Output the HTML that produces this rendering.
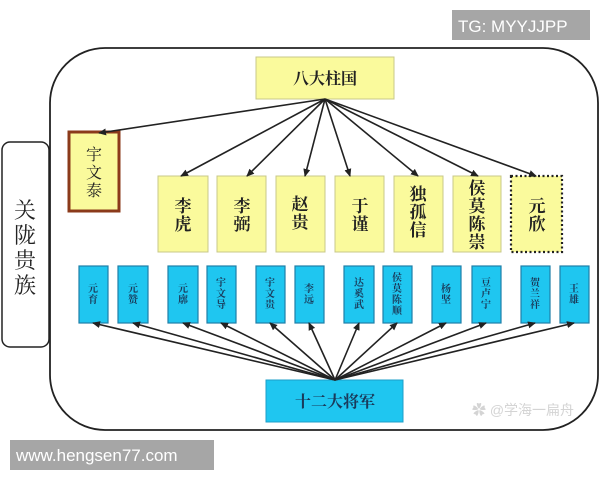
<!DOCTYPE html>
<html><head><meta charset="utf-8"><style>
html,body{margin:0;padding:0;background:#fff;}
svg{display:block}
text{font-family:"Liberation Serif","Noto Serif CJK SC","Noto Sans CJK SC",serif;}
</style></head><body>
<svg width="600" height="480" viewBox="0 0 600 480" xmlns="http://www.w3.org/2000/svg">
<defs>
<marker id="ah" markerWidth="8" markerHeight="8" refX="7" refY="4" orient="auto" markerUnits="userSpaceOnUse">
<path d="M0,0.5 L8,4 L0,7.5 z" fill="#222"/></marker>
</defs>
<rect x="0" y="0" width="600" height="480" fill="#fff"/>
<rect x="50" y="48" width="548" height="382" rx="55" ry="55" fill="#fff" stroke="#222" stroke-width="1.8"/>
<rect x="2" y="142" width="47" height="205" rx="8" fill="#fff" stroke="#222" stroke-width="1.5"/>
<text x="25" y="218" font-size="22" text-anchor="middle" fill="#222">关</text>
<text x="25" y="243" font-size="22" text-anchor="middle" fill="#222">陇</text>
<text x="25" y="268" font-size="22" text-anchor="middle" fill="#222">贵</text>
<text x="25" y="293" font-size="22" text-anchor="middle" fill="#222">族</text>

<rect x="256" y="57" width="138" height="42" fill="#fafa9c" stroke="#c8c88a" stroke-width="1"/>
<text x="325" y="84" font-size="16" font-weight="bold" text-anchor="middle" fill="#222">八大柱国</text>

<rect x="69" y="132" width="50" height="79" fill="#fafa9c" stroke="#8b3a1a" stroke-width="3"/>
<text x="94" y="160" font-size="16" text-anchor="middle" fill="#222">宇</text>
<text x="94" y="178" font-size="16" text-anchor="middle" fill="#222">文</text>
<text x="94" y="196" font-size="16" text-anchor="middle" fill="#222">泰</text>

<g fill="#fafa9c" stroke="#c8c88a" stroke-width="1">
<rect x="158" y="176" width="50" height="76"/>
<rect x="217" y="176" width="49" height="76"/>
<rect x="276" y="176" width="49" height="76"/>
<rect x="335" y="176" width="49" height="76"/>
<rect x="394" y="176" width="49" height="76"/>
<rect x="453" y="176" width="48" height="76"/>
</g>
<rect x="511" y="176" width="51" height="76" fill="#fafa9c" stroke="#222" stroke-width="2.2" stroke-dasharray="2,2.5"/>
<g font-size="17" font-weight="bold" text-anchor="middle" fill="#222">
<text x="183" y="212">李</text><text x="183" y="230">虎</text>
<text x="242" y="212">李</text><text x="242" y="230">弼</text>
<text x="300" y="210">赵</text><text x="300" y="228">贵</text>
<text x="360" y="212">于</text><text x="360" y="230">谨</text>
<text x="418" y="200">独</text><text x="418" y="218">孤</text><text x="418" y="236">信</text>
<text x="477" y="194">侯</text><text x="477" y="212">莫</text><text x="477" y="230">陈</text><text x="477" y="248">崇</text>
<text x="537" y="212">元</text><text x="537" y="230">欣</text>
</g>

<g stroke="#222" stroke-width="1.6" marker-end="url(#ah)">
<line x1="325" y1="99" x2="99" y2="133"/>
<line x1="325" y1="99" x2="181" y2="176"/>
<line x1="325" y1="99" x2="247" y2="176"/>
<line x1="325" y1="99" x2="305" y2="176"/>
<line x1="325" y1="99" x2="350" y2="176"/>
<line x1="325" y1="99" x2="418" y2="176"/>
<line x1="325" y1="99" x2="478" y2="176"/>
<line x1="325" y1="99" x2="536" y2="176"/>
</g>

<g fill="#1fc6f0" stroke="#1e7fa8" stroke-width="1.2">
<rect x="79" y="266" width="29" height="57"/>
<rect x="118" y="266" width="30" height="57"/>
<rect x="168" y="266" width="30" height="57"/>
<rect x="207" y="266" width="29" height="57"/>
<rect x="256" y="266" width="29" height="57"/>
<rect x="295" y="266" width="29" height="57"/>
<rect x="344" y="266" width="30" height="57"/>
<rect x="383" y="266" width="29" height="57"/>
<rect x="432" y="266" width="29" height="57"/>
<rect x="472" y="266" width="29" height="57"/>
<rect x="521" y="266" width="29" height="57"/>
<rect x="560" y="266" width="29" height="57"/>
</g>
<g font-size="10" font-weight="bold" text-anchor="middle" fill="#1a3a5a" style="font-family:'Liberation Sans','Noto Sans CJK SC',sans-serif">
<text x="93" y="292">元</text><text x="93" y="303">育</text>
<text x="133" y="292">元</text><text x="133" y="303">赞</text>
<text x="183" y="292">元</text><text x="183" y="303">廓</text>
<text x="221" y="286">宇</text><text x="221" y="297">文</text><text x="221" y="308">导</text>
<text x="270" y="286">宇</text><text x="270" y="297">文</text><text x="270" y="308">贵</text>
<text x="309" y="292">李</text><text x="309" y="303">远</text>
<text x="359" y="286">达</text><text x="359" y="297">奚</text><text x="359" y="308">武</text>
<text x="397" y="281">侯</text><text x="397" y="292">莫</text><text x="397" y="303">陈</text><text x="397" y="314">顺</text>
<text x="446" y="292">杨</text><text x="446" y="303">坚</text>
<text x="486" y="286">豆</text><text x="486" y="297">卢</text><text x="486" y="308">宁</text>
<text x="535" y="286">贺</text><text x="535" y="297">兰</text><text x="535" y="308">祥</text>
<text x="574" y="292">王</text><text x="574" y="303">雄</text>
</g>

<rect x="266" y="380" width="137" height="42" fill="#1fc6f0" stroke="#1e9fc8" stroke-width="1"/>
<text x="335" y="407" font-size="16" font-weight="bold" text-anchor="middle" fill="#1a3a5a">十二大将军</text>

<g stroke="#222" stroke-width="1.6" marker-end="url(#ah)">
<line x1="335" y1="380" x2="93" y2="323"/>
<line x1="335" y1="380" x2="133" y2="323"/>
<line x1="335" y1="380" x2="183" y2="323"/>
<line x1="335" y1="380" x2="221" y2="323"/>
<line x1="335" y1="380" x2="270" y2="323"/>
<line x1="335" y1="380" x2="309" y2="323"/>
<line x1="335" y1="380" x2="359" y2="323"/>
<line x1="335" y1="380" x2="397" y2="323"/>
<line x1="335" y1="380" x2="446" y2="323"/>
<line x1="335" y1="380" x2="486" y2="323"/>
<line x1="335" y1="380" x2="535" y2="323"/>
<line x1="335" y1="380" x2="574" y2="323"/>
</g>

<text x="523" y="415" font-size="14" text-anchor="middle" fill="#d4d4d4" style="font-family:'Liberation Sans','Noto Sans CJK SC',sans-serif">✿ @学海一扁舟</text>

<rect x="452" y="10" width="138" height="30" fill="#a6a6a6"/>
<text x="458" y="32" font-size="17" fill="#fff" style="font-family:'Liberation Sans',sans-serif">TG: MYYJJPP</text>

<rect x="10" y="440" width="204" height="30" fill="#a6a6a6"/>
<text x="16" y="461" font-size="17" fill="#fff" style="font-family:'Liberation Sans',sans-serif">www.hengsen77.com</text>
</svg>
</body></html>
